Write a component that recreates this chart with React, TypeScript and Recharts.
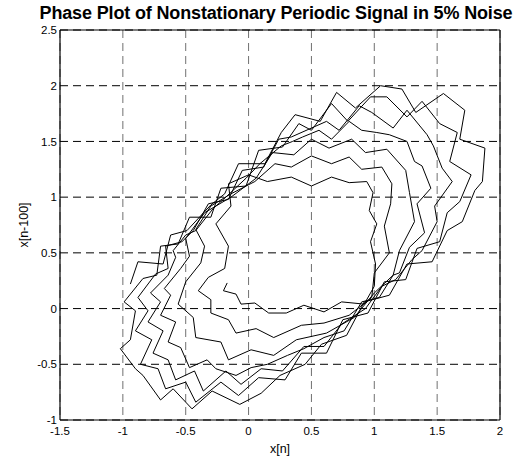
import React from "react";
import { LineChart, Line, XAxis, YAxis, CartesianGrid, ReferenceLine } from "recharts";

// Phase plot trajectory: x[n] values
const xs: number[] = [
  // loop 1
  -0.94, -0.88, -0.68, -0.62, -0.49, -0.3, -0.19, -0.08, 0.13, 0.26, 0.37, 0.57, 0.7, 0.85, 1.05,
  1.22, 1.33, 1.55, 1.72, 1.68, 1.88, 1.86, 1.8, 1.7, 1.58, 1.46, 1.26, 1.12, 0.92, 0.78,
  0.58, 0.45, 0.25, 0.1, -0.07, -0.29, -0.45, -0.6, -0.7, -0.84, -0.9, -1.02, -0.94, -0.9, -0.99,
  // loop 2
  -0.84, -0.73, -0.7, -0.56, -0.47, -0.3, -0.22, -0.02, 0.08, 0.27, 0.4, 0.5, 0.66, 0.79, 0.97,
  1.1, 1.26, 1.38, 1.52, 1.66, 1.6, 1.77, 1.68, 1.58, 1.52, 1.34, 1.25, 1.08, 0.95, 0.75,
  0.62, 0.42, 0.29, 0.08, -0.08, -0.22, -0.42, -0.5, -0.66, -0.72, -0.86, -0.77, -0.9, -0.8, -0.88,
  // loop 3
  -0.74, -0.64, -0.66, -0.53, -0.44, -0.32, -0.16, -0.05, 0.12, 0.24, 0.34, 0.5, 0.62, 0.72, 0.88,
  0.98, 1.15, 1.26, 1.42, 1.47, 1.54, 1.62, 1.48, 1.5, 1.38, 1.3, 1.17, 1.06, 0.93, 0.74,
  0.6, 0.44, 0.27, 0.1, -0.06, -0.18, -0.36, -0.43, -0.58, -0.64, -0.76, -0.68, -0.8, -0.7, -0.78,
  // loop 4
  -0.64, -0.58, -0.6, -0.5, -0.42, -0.28, -0.2, -0.02, 0.09, 0.26, 0.35, 0.43, 0.56, 0.66, 0.8,
  0.9, 1.02, 1.12, 1.26, 1.32, 1.38, 1.45, 1.34, 1.4, 1.28, 1.2, 1.15, 1.04, 0.9, 0.76,
  0.6, 0.44, 0.31, 0.15, 0.02, -0.1, -0.26, -0.33, -0.47, -0.54, -0.64, -0.58, -0.7, -0.62, -0.67,
  // loop 5
  -0.54, -0.47, -0.5, -0.35, -0.14, 0.06, 0.19, 0.36, 0.5, 0.64, 0.82, 0.93, 1.1, 1.25, 1.28,
  1.32, 1.2, 1.15, 1.0, 0.84, 0.62, 0.38, 0.2, 0.02, -0.16, -0.22, -0.42, -0.44, -0.56, -0.5,
  // loop 6
  -0.38, -0.35, -0.42, -0.3, -0.14, 0.05, 0.21, 0.34, 0.5, 0.66, 0.8, 0.9, 1.06, 1.14, 1.13,
  1.08, 1.12, 1.0, 0.98, 0.8, 0.6, 0.42, 0.2, 0.06, -0.1, -0.16, -0.3, -0.3, -0.4, -0.32,
  // loop 7
  -0.19, -0.16, -0.26, -0.14, -0.16, 0.0, 0.15, 0.34, 0.5, 0.66, 0.8, 0.94, 0.99, 0.96, 1.02,
  0.97, 1.01, 1.0, 0.92, 0.74, 0.6, 0.44, 0.3, 0.16, 0.05, -0.06, -0.1, -0.2, -0.17,
];

// Phase plot trajectory: x[n-100] values
const ys: number[] = [
  // loop 1
  0.22, 0.42, 0.4, 0.66, 0.7, 0.93, 1.03, 1.3, 1.3, 1.58, 1.74, 1.68, 1.94, 1.8, 2.0,
  1.97, 1.76, 1.93, 1.78, 1.52, 1.44, 1.14, 1.06, 0.78, 0.7, 0.42, 0.4, 0.12, 0.06, -0.24,
  -0.32, -0.5, -0.6, -0.76, -0.86, -0.74, -0.9, -0.72, -0.82, -0.6, -0.54, -0.36, -0.28, -0.02, 0.06,
  // loop 2
  0.27, 0.3, 0.56, 0.58, 0.82, 0.82, 1.08, 1.1, 1.42, 1.45, 1.66, 1.6, 1.84, 1.68, 1.9,
  1.9, 1.72, 1.86, 1.66, 1.58, 1.32, 1.2, 0.96, 0.86, 0.6, 0.54, 0.26, 0.24, -0.04, -0.1,
  -0.4, -0.4, -0.64, -0.62, -0.78, -0.66, -0.84, -0.66, -0.72, -0.54, -0.5, -0.28, -0.2, -0.02, 0.1,
  // loop 3
  0.31, 0.36, 0.56, 0.6, 0.7, 0.94, 0.98, 1.24, 1.27, 1.52, 1.54, 1.62, 1.68, 1.6, 1.82,
  1.76, 1.62, 1.78, 1.56, 1.46, 1.26, 1.14, 0.92, 0.78, 0.52, 0.44, 0.26, 0.2, 0.0, -0.14,
  -0.34, -0.34, -0.56, -0.54, -0.68, -0.56, -0.74, -0.56, -0.64, -0.46, -0.4, -0.2, -0.12, 0.06, 0.14,
  // loop 4
  0.3, 0.46, 0.52, 0.66, 0.7, 0.9, 0.98, 1.17, 1.3, 1.46, 1.5, 1.54, 1.6, 1.52, 1.68,
  1.6, 1.58, 1.56, 1.5, 1.32, 1.28, 1.08, 0.94, 0.68, 0.55, 0.32, 0.3, 0.1, 0.06, -0.2,
  -0.26, -0.36, -0.42, -0.5, -0.53, -0.6, -0.54, -0.46, -0.53, -0.35, -0.3, -0.12, -0.06, 0.12, 0.18,
  // loop 5
  0.36, 0.47, 0.63, 0.86, 1.0, 1.17, 1.4, 1.38, 1.52, 1.44, 1.52, 1.4, 1.43, 1.24, 1.04,
  0.78, 0.52, 0.3, 0.14, -0.08, -0.22, -0.28, -0.42, -0.37, -0.46, -0.3, -0.26, -0.08, 0.04, 0.24,
  // loop 6
  0.41, 0.56, 0.71, 0.92, 1.03, 1.14, 1.3, 1.27, 1.37, 1.3, 1.36, 1.25, 1.27, 1.12, 0.94,
  0.74, 0.5, 0.32, 0.1, -0.06, -0.13, -0.15, -0.26, -0.18, -0.22, -0.1, -0.04, 0.08, 0.16, 0.28,
  // loop 7
  0.36, 0.56, 0.76, 0.92, 1.12, 1.2, 1.14, 1.18, 1.1, 1.18, 1.13, 1.14, 1.04, 0.88, 0.76,
  0.6, 0.4, 0.2, 0.04, 0.06, -0.03, 0.03, -0.04, -0.04, 0.05, 0.04, 0.13, 0.16, 0.23,
];

const xTicks = [-1.5, -1, -0.5, 0, 0.5, 1, 1.5, 2];
const yTicks = [-1, -0.5, 0, 0.5, 1, 1.5, 2, 2.5];

const titleText = "Phase Plot of Nonstationary Periodic Signal in 5% Noise";
const xLabelText = "x[n]";
const yLabelText = "x[n-100]";

const data = xs.map((x, i) => ({ x, y: ys[i] }));

const FONT = "'Liberation Sans', Arial, sans-serif";

export default function App() {
  return (
    <div style={{ position: "absolute", left: 0, top: 0, width: 523, height: 460, background: "#fff", fontFamily: FONT }}>
      <LineChart
        width={523}
        height={460}
        data={data}
        margin={{ top: 30, right: 23, bottom: 0, left: 0 }}
      >
        <CartesianGrid horizontal={false} stroke="#707070" strokeDasharray="8 5" />
        <CartesianGrid vertical={false} stroke="#000" strokeDasharray="8 5" />
        <XAxis
          type="number"
          dataKey="x"
          domain={[-1.5, 2]}
          ticks={xTicks}
          allowDataOverflow
          height={40}
          tickLine={false}
          tickSize={6}
          tickMargin={1}
          axisLine={{ stroke: "#000", strokeWidth: 1.2 }}
          tick={{ fill: "#000", fontSize: 11.5, fontFamily: FONT }}
          interval={0}
        />
        <YAxis
          type="number"
          dataKey="y"
          domain={[-1, 2.5]}
          ticks={yTicks}
          allowDataOverflow
          width={60}
          tickLine={false}
          tickSize={2}
          tickMargin={1}
          axisLine={{ stroke: "#000", strokeWidth: 1.2 }}
          tick={{ fill: "#000", fontSize: 11.5, fontFamily: FONT }}
          interval={0}
        />
        <ReferenceLine x={2} stroke="#000" strokeWidth={1.2} />
        <ReferenceLine y={2.5} stroke="#000" strokeWidth={1.2} />
        <Line
          type="linear"
          dataKey="y"
          stroke="#000"
          strokeWidth={1}
          dot={false}
          activeDot={false}
          isAnimationActive={false}
        />
      </LineChart>
      <div style={{ position: "absolute", left: 0, width: 552, top: 3, textAlign: "center", fontWeight: "bold", fontSize: 18, letterSpacing: -0.15, whiteSpace: "nowrap", color: "#000" }}>
        {titleText}
      </div>
      <div style={{ position: "absolute", left: 230, width: 100, top: 442, textAlign: "center", fontSize: 12.5, color: "#000" }}>
        {xLabelText}
      </div>
      <div style={{ position: "absolute", left: 24, top: 225, width: 0, height: 0 }}>
        <div style={{ position: "absolute", left: -60, top: -8, width: 120, textAlign: "center", fontSize: 12.5, color: "#000", transform: "rotate(-90deg)", lineHeight: "16px" }}>
          {yLabelText}
        </div>
      </div>
    </div>
  );
}
